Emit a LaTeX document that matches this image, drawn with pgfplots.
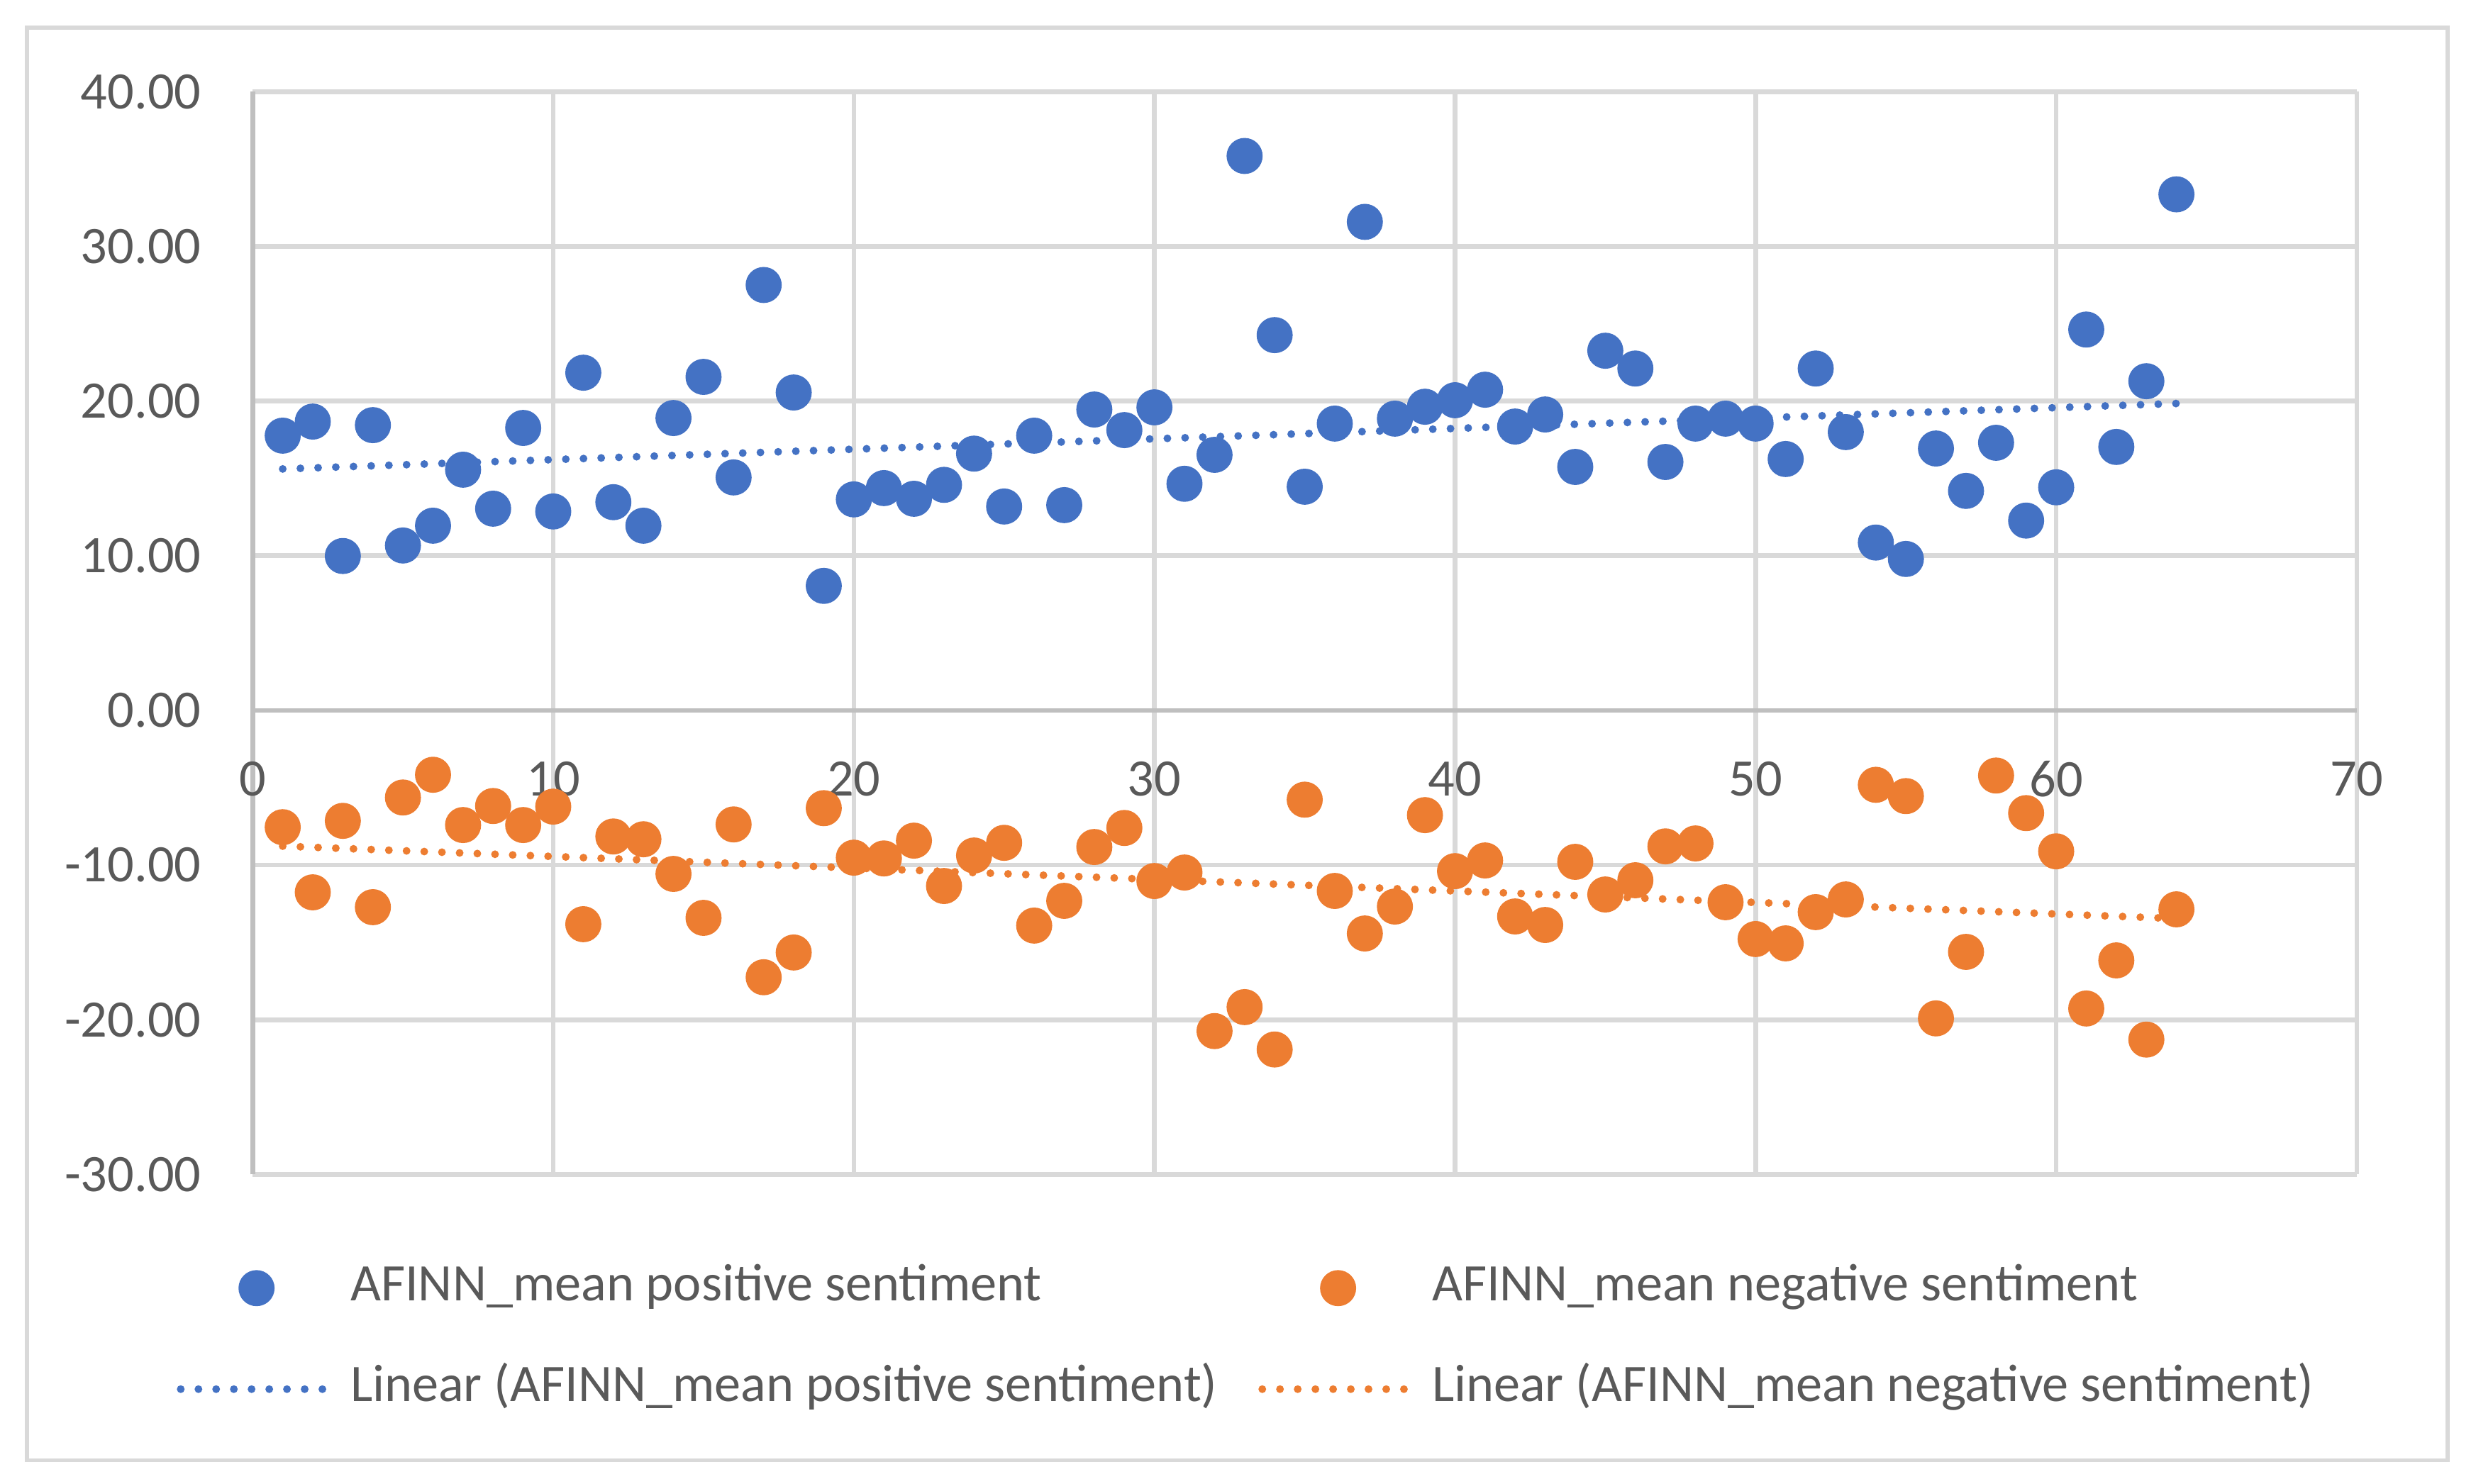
\documentclass[border=0pt]{standalone}
\usepackage{pgfplots}
\pgfplotsset{compat=1.18}
\usepackage{pgfplotstable}
\usepackage{fontspec}
\setmainfont{Carlito}

\definecolor{pblue}{HTML}{4472C4}
\definecolor{porange}{HTML}{ED7D31}
\definecolor{gridgray}{HTML}{D9D9D9}
\definecolor{axisgray}{HTML}{BFBFBF}
\definecolor{txtgray}{HTML}{595959}

% x = item, pos/neg = AFINN mean sentiment
\pgfplotstableread{
x pos neg
1 17.76 -7.55
2 18.67 -11.76
3 9.98 -7.14
4 18.44 -12.72
5 10.66 -5.63
6 11.94 -4.16
7 15.56 -7.41
8 13.04 -6.18
9 18.26 -7.41
10 12.86 -6.22
11 21.83 -13.82
12 13.46 -8.15
13 11.94 -8.33
14 18.90 -10.57
15 21.56 -13.41
16 15.06 -7.37
17 27.50 -17.25
18 20.55 -15.65
19 8.05 -6.32
20 13.64 -9.52
21 14.37 -9.57
22 13.68 -8.42
23 14.58 -11.35
24 16.60 -9.38
25 13.18 -8.56
26 17.76 -13.91
27 13.27 -12.31
28 19.45 -8.83
29 18.12 -7.60
30 19.59 -11.03
31 14.65 -10.48
32 16.52 -20.73
33 35.84 -19.18
34 24.26 -21.92
35 14.46 -5.77
36 18.54 -11.67
37 31.58 -14.42
38 18.86 -12.68
39 19.63 -6.77
40 20.05 -10.39
41 20.73 -9.70
42 18.35 -13.32
43 19.13 -13.87
44 15.74 -9.79
45 23.25 -11.90
46 22.10 -10.98
47 16.06 -8.79
48 18.54 -8.60
49 18.86 -12.40
50 18.54 -14.78
51 16.25 -15.06
52 22.10 -13.04
53 17.99 -12.22
54 10.85 -4.81
55 9.79 -5.54
56 16.93 -19.91
57 14.19 -15.61
58 17.30 -4.21
59 12.27 -6.64
60 14.42 -9.11
61 24.62 -19.27
62 17.03 -16.16
63 21.28 -21.28
64 33.36 -12.86
}\sentdata

\newcommand{\colone}[1]{\makebox[5.66cm][l]{#1}}

\begin{document}
\begin{tikzpicture}
\path[use as bounding box] (0,0) rectangle (15.68,9.40);
\draw[gridgray, line width=0.7pt] (0.17,0.15) rectangle (15.50,9.225);
\begin{axis}[
  at={(1.60cm,1.96cm)}, anchor=south west,
  scale only axis, width=13.325cm, height=6.86cm,
  xmin=0, xmax=70, ymin=-30, ymax=40,
  xtick={0,10,...,70}, ytick={-30,-20,...,40},
  axis x line=middle, axis y line=left,
  axis line style={axisgray, line width=0.85pt, -},
  hide obscured x ticks=false, hide obscured y ticks=false,
  major tick length=0pt,
  grid=major, major grid style={gridgray, line width=0.85pt},
  tick label style={text=txtgray, font=\fontsize{9.5}{11}\selectfont},
  /pgf/number format/assume math mode=true,
  yticklabel style={/pgf/number format/.cd, fixed, fixed zerofill, precision=2, /tikz/.cd,
    anchor=east, inner sep=0pt, xshift=-0.32cm},
  xticklabel style={anchor=center, yshift=-0.435cm},
  legend columns=2,
  legend image code/.code={\draw[mark repeat=2, mark phase=2, #1]
    plot coordinates {(0cm,0cm) (0.48cm,0cm) (0.96cm,0cm)};},
  legend style={
    at={(0,0)}, anchor=north west, xshift=-0.48cm, yshift=-0.553cm,
    draw=none, fill=none, inner sep=0pt, outer sep=0pt,
    font=\fontsize{9.5}{11}\selectfont, text=txtgray,
    column sep=0.09cm, row sep=0.306cm,
    /tikz/every even column/.append style={column sep=0.09cm},
    nodes={inner sep=0pt, text height=7pt, text depth=2.5pt},
  },
  legend cell align=left,
]
\addplot[only marks, mark=*, mark size=3.05pt, mark options={fill=pblue, draw=pblue}]
  table[x=x, y=pos] {\sentdata};
\addlegendentry{\colone{AFINN\_mean positive sentiment}}
\addplot[only marks, mark=*, mark size=3.05pt, mark options={fill=porange, draw=porange}]
  table[x=x, y=neg] {\sentdata};
\addlegendentry{AFINN\_mean negative sentiment}
\addplot[pblue, line width=1.4pt, line cap=round, dash pattern=on 0pt off 3.19pt]
  table[x=x, y={create col/linear regression={y=pos}}] {\sentdata};
\addlegendentry{\colone{Linear (AFINN\_mean positive sentiment)}}
\addplot[porange, line width=1.4pt, line cap=round, dash pattern=on 0pt off 3.19pt]
  table[x=x, y={create col/linear regression={y=neg}}] {\sentdata};
\addlegendentry{Linear (AFINN\_mean negative sentiment)}
\end{axis}
\end{tikzpicture}
\end{document}
